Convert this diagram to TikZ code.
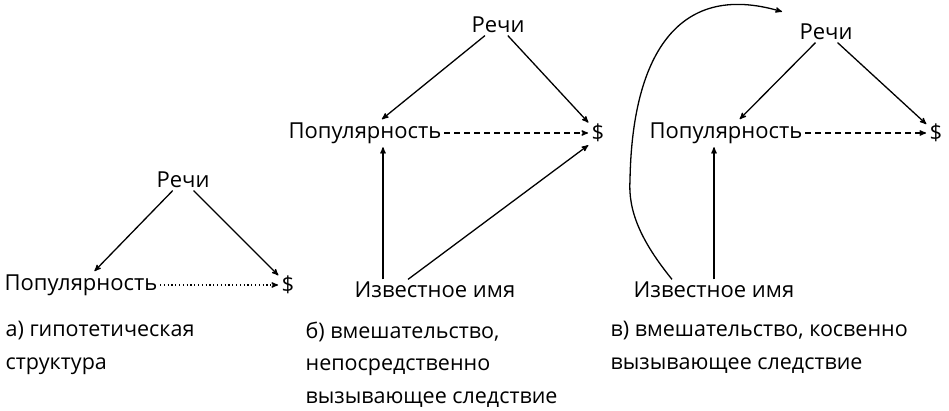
\documentclass[tikz,border=0pt]{standalone}
\usepackage{fontspec}
\setmainfont{Open Sans}
\usetikzlibrary{arrows}

\begin{document}
\begin{tikzpicture}[->,>=stealth',shorten >=1pt,x=1pt,y=-1pt,line width=1.3pt]
  \tikzstyle{every node}=[font=\fontsize{22}{26}\selectfont,inner sep=2pt]
  \tikzstyle{captext}=[anchor=north west,align=left,inner sep=0pt,
                       font=\fontsize{21.5}{32.5}\selectfont]
  \tikzstyle{hidden}=[dash pattern=on 6pt off 4pt]
  \tikzstyle{guess}=[dash pattern=on 1.2pt off 2.6pt]

  \useasboundingbox (0,0) rectangle (949,411);

  % a) hypothetical structure
  \node (rA) at (183,180) {Речи};
  \node (pA) at (81,285)  {Популярность};
  \node (dA) at (288,285) {\$};

  \path (rA) edge (pA)
        (rA) edge (dA)
        (pA) edge [guess] (dA);

  \node[captext] (tA) at (5,321) {а) гипотетическая\\структура};

  % b) direct intervention
  \node (rB) at (498,25)  {Речи};
  \node (pB) at (365,133) {Популярность};
  \node (dB) at (598,133) {\$};
  \node (iB) at (435,290) {Известное имя};

  \path (rB) edge (pB)
        (rB) edge (dB)
        (pB) edge [hidden] (dB);
  \draw ([xshift=-52pt]iB.north) -- ([xshift=-52pt]iB.north |- pB.south);
  \draw ([xshift=-27pt]iB.north) -- (dB.south west);

  \node[captext] (tB) at (305,321) {б) вмешательство,\\непосредственно\\вызывающее следствие};

  % c) indirect intervention
  \node (rC) at (826,32)  {Речи};
  \node (pC) at (726,133) {Популярность};
  \node (dC) at (936,133) {\$};
  \node (iC) at (714,290) {Известное имя};
  \coordinate (kC) at (783,12);

  \path (rC) edge (pC)
        (rC) edge (dC)
        (pC) edge [hidden] (dC);
  \draw (iC.north) -- (iC.north |- pC.south);
  \draw ([xshift=-42pt]iC.north) .. controls (640,240) and (628,210) .. (630,180)
        .. controls (632,60) and (675,-20) .. (kC);

  \node[captext] (tC) at (610,321) {в) вмешательство, косвенно\\вызывающее следствие};
\end{tikzpicture}
\end{document}
